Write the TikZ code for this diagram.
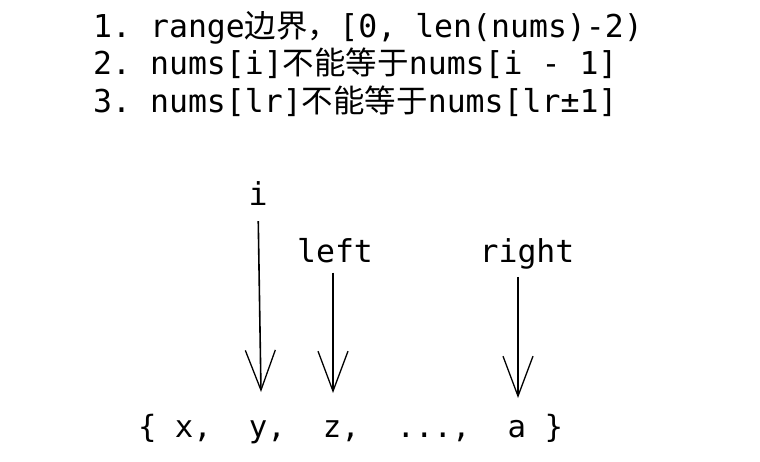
\documentclass[tikz,border=0pt]{standalone}
\usepackage{fontspec}
\setmonofont{DejaVu Sans Mono}
\newfontfamily\cjk{Noto Sans CJK SC}
\usetikzlibrary{arrows.meta}

\begin{document}
\begin{tikzpicture}[x=1pt,y=-1pt,
  txt/.style={font=\ttfamily\fontsize{31.5}{37}\selectfont, inner sep=0pt, anchor=base west},
  lbl/.style={font=\ttfamily\fontsize{31.5}{37}\selectfont, inner sep=0pt, anchor=base},
  ptr/.style={-{Straight Barb[length=40pt,width=30pt,line width=1.3pt]}, line width=1.6pt}]
  \useasboundingbox (0,0) rectangle (760,461);

  % rules
  \node[txt] (rule1) at (93,37) {1. range{\cjk 边界，}[0, len(nums)-2)};
  \node[txt] (rule2) at (93,74.5) {2. nums[i]{\cjk 不能等于}nums[i - 1]};
  \node[txt] (rule3) at (93,112) {3. nums[lr]{\cjk 不能等于}nums[lr±1]};

  % pointers
  \node[lbl] (i) at (258,205) {i};
  \node[lbl] (left) at (335,262) {left};
  \node[lbl] (right) at (527,262) {right};

  % array
  \node[txt, font=\ttfamily\fontsize{30.7}{37}\selectfont] (arr) at (137.8,437)
    {\{ x,\ \ y,\ \ z,\ \ ...,\ \ a \}};
  \coordinate (tip y) at (261,392);
  \coordinate (tip z) at (333,393);
  \coordinate (tip a) at (518,398);

  \draw[ptr, shorten <=16pt] (i.south) -- (tip y);
  \draw[ptr, shorten <=10pt] (left.south -| tip z) -- (tip z);
  \draw[ptr, shorten <=8pt] (right.south -| tip a) -- (tip a);
\end{tikzpicture}
\end{document}
